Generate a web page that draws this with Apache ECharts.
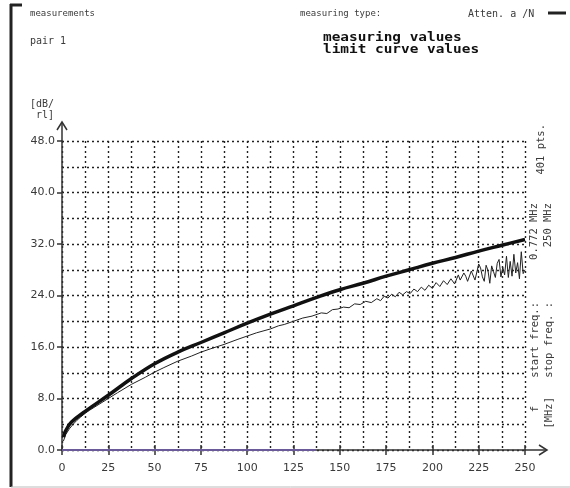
<!DOCTYPE html>
<html><head><meta charset="utf-8">
<script src="https://cdn.jsdelivr.net/npm/echarts@6/dist/echarts.min.js"></script>
<style>html,body{margin:0;padding:0;background:#fff}#c{width:570px;height:488px}</style>
</head><body><div id="c"></div>
<script>
// ---- data ----
const limitFreq = [0.772, 2, 5, 12.5, 25, 37.5, 50, 62.5, 75, 87.5, 100, 112.5, 125, 137.5, 150, 162.5, 175, 187.5, 200, 212.5, 225, 237.5, 250];
const limitVal  = [2.0, 3.0, 4.3, 6.0, 8.5, 11.1, 13.4, 15.2, 16.7, 18.2, 19.7, 21.1, 22.4, 23.7, 24.9, 25.9, 27.0, 28.0, 29.0, 29.9, 30.9, 31.8, 32.7];
const measFreq = [0.772, 2, 4, 6, 8, 10, 12.5, 15, 20, 25, 30, 37.5, 45, 50, 55, 62.5, 70, 75, 80, 87.5, 95, 100, 105, 112.5, 117, 120, 125, 130, 135, 140, 143, 146, 149, 152, 155, 158, 161, 164, 167, 170, 172, 174, 176, 178, 180, 182, 184, 186, 188, 190, 192, 194, 196, 198, 200, 202, 204, 206, 208, 210, 212, 214, 215, 216, 217, 218, 219, 220, 221, 222, 223, 224, 225, 226, 227, 228, 229, 230, 231, 232, 233, 234, 235, 236, 237, 238, 239, 240, 241, 242, 243, 244, 245, 246, 247, 248, 249, 250];
const measVal  = [1.4, 2.4, 3.3, 4.0, 4.6, 5.1, 5.7, 6.2, 7.1, 8.0, 8.9, 10.2, 11.3, 12.1, 12.8, 13.8, 14.6, 15.2, 15.7, 16.4, 17.2, 17.7, 18.2, 18.8, 19.3, 19.5, 20.0, 20.5, 20.8, 21.3, 21.2, 21.8, 21.9, 22.2, 22.1, 22.7, 22.6, 23.1, 22.9, 23.5, 23.2, 23.9, 23.6, 24.2, 23.8, 24.5, 24.1, 24.6, 24.3, 25.0, 24.6, 25.3, 24.8, 25.6, 25.1, 26.0, 25.4, 26.3, 25.7, 26.6, 25.8, 27.2, 26.4, 26.1, 27.5, 27.0, 26.2, 26.3, 27.8, 27.6, 26.4, 26.5, 28.9, 28.3, 26.9, 26.2, 28.7, 27.9, 25.9, 28.6, 27.7, 26.8, 29.0, 29.6, 26.9, 28.4, 27.2, 30.1, 26.8, 29.3, 27.0, 30.4, 27.5, 29.1, 26.6, 30.8, 27.4, 28.0];
const xTickStep = 25, xGridStep = 12.5, xMax = 250;
const yTickStep = 8, yGridStep = 4, yMax = 48;

// ---- layout ----
const G = {left: 62, right: 45, top: 141, bottom: 38};
const FONT = 'DejaVu Sans';
const MONO = 'DejaVu Sans Mono';
const gray = '#3a3a3a';

const chart = echarts.init(document.getElementById('c'), null, {renderer: 'canvas'});
const zip = (a, b) => a.map((v, i) => [v, b[i]]);
const dash = {type: [2, 3], color: '#222', width: 1.4};

const option = {
  animation: false,
  backgroundColor: '#fff',
  grid: {left: G.left, right: G.right, top: G.top, bottom: G.bottom, containLabel: false},
  xAxis: [
    {type: 'value', min: 0, max: xMax, interval: xGridStep,
     axisLine: {show: true, lineStyle: {color: '#333', width: 1.5}},
     axisTick: {show: false}, axisLabel: {show: false},
     splitLine: {show: true, lineStyle: dash}},
    {type: 'value', min: 0, max: xMax, interval: xTickStep, position: 'bottom',
     axisLine: {show: false},
     axisTick: {show: true, length: 5, lineStyle: {color: '#333', width: 1.5}},
     axisLabel: {show: true, color: gray, fontFamily: FONT, fontSize: 11, margin: 13},
     splitLine: {show: false}},
    {type: 'value', min: 0, max: xMax, interval: xTickStep, position: 'bottom',
     axisLine: {show: false},
     axisTick: {show: true, inside: true, length: 5, lineStyle: {color: '#333', width: 1.5}},
     axisLabel: {show: false}, splitLine: {show: false}}
  ],
  yAxis: [
    {type: 'value', min: 0, max: yMax, interval: yGridStep,
     axisLine: {show: true, lineStyle: {color: '#333', width: 1.5}},
     axisTick: {show: false}, axisLabel: {show: false},
     splitLine: {show: true, lineStyle: dash}},
    {type: 'value', min: 0, max: yMax, interval: yTickStep, position: 'left',
     axisLine: {show: false},
     axisTick: {show: true, length: 5, lineStyle: {color: '#333', width: 1.5}},
     axisLabel: {show: true, color: gray, fontFamily: FONT, fontSize: 11, margin: 7,
                 formatter: v => v.toFixed(1)},
     splitLine: {show: false}}
  ],
  series: [
    {name: 'limit curve values', type: 'line', xAxisIndex: 0, yAxisIndex: 0,
     data: zip(limitFreq, limitVal), smooth: 0.4, symbol: 'none',
     lineStyle: {color: '#111', width: 3.5}, z: 4},
    {name: 'measuring values', type: 'line', xAxisIndex: 0, yAxisIndex: 0,
     data: zip(measFreq, measVal), smooth: false, symbol: 'none',
     lineStyle: {color: '#222', width: 1}, z: 3}
  ]
};
chart.setOption(option);

// ---- decorations & texts ----
const p0 = chart.convertToPixel({xAxisIndex: 0, yAxisIndex: 0}, [0, 0]);
const pTop = chart.convertToPixel({xAxisIndex: 0, yAxisIndex: 0}, [0, yMax]);
const pEnd = chart.convertToPixel({xAxisIndex: 0, yAxisIndex: 0}, [xMax, 0]);
const pPurple = chart.convertToPixel({xAxisIndex: 0, yAxisIndex: 0}, [137, 0]);
const ax = p0[0], ay = p0[1];
const ls = {stroke: '#333', lineWidth: 1.5, fill: null};
const txt = (x, y, t, o, extra) => Object.assign({type: 'text', x: x, y: y,
  style: Object.assign({text: t, fill: gray, font: '9px ' + MONO, textVerticalAlign: 'middle'}, o || {})}, extra || {});
const rot = (x, y, t, o) => txt(x, y, t, Object.assign({textAlign: 'right', font: '10.5px ' + MONO}, o), {rotation: Math.PI / 2});

chart.setOption({graphic: [
  // frame
  {type: 'line', shape: {x1: 11, y1: 4, x2: 11, y2: 487}, style: {stroke: '#222', lineWidth: 3}},
  {type: 'line', shape: {x1: 10, y1: 5, x2: 22, y2: 5}, style: {stroke: '#222', lineWidth: 3}},
  {type: 'line', shape: {x1: 548, y1: 13, x2: 566, y2: 13}, style: {stroke: '#222', lineWidth: 3}},
  {type: 'line', shape: {x1: 11, y1: 487, x2: 570, y2: 487}, style: {stroke: '#bbb', lineWidth: 1}},
  // axis extensions & arrows
  {type: 'line', shape: {x1: ax, y1: pTop[1], x2: ax, y2: pTop[1] - 19}, style: ls},
  {type: 'polyline', shape: {points: [[ax - 5, pTop[1] - 11], [ax, pTop[1] - 19], [ax + 5, pTop[1] - 11]]}, style: ls},
  {type: 'line', shape: {x1: pEnd[0], y1: ay, x2: pEnd[0] + 22, y2: ay}, style: ls},
  {type: 'polyline', shape: {points: [[pEnd[0] + 14, ay - 5], [pEnd[0] + 22, ay], [pEnd[0] + 14, ay + 5]]}, style: ls},
  {type: 'line', shape: {x1: ax, y1: ay, x2: pPurple[0], y2: ay}, style: {stroke: '#6a5a9a', lineWidth: 1.8}, z: 10},
  // header texts
  txt(30, 14, 'measurements'),
  txt(300, 14, 'measuring type:'),
  txt(468, 14, 'Atten. a /N', {font: '10px ' + MONO}),
  txt(30, 41, 'pair 1', {font: '10px ' + MONO}),
  txt(323, 38, 'measuring values', {fill: '#111', font: 'bold 12px ' + MONO}, {scaleX: 1.2, originX: 0, originY: 0}),
  txt(323, 50, 'limit curve values', {fill: '#111', font: 'bold 12px ' + MONO}, {scaleX: 1.2, originX: 0, originY: 0}),
  // y unit
  txt(30, 104, '[dB/', {font: '10px ' + MONO}),
  txt(36, 115, 'rl]', {font: '10px ' + MONO}),
  // right rotated texts
  rot(541, 124, '401 pts.'),
  rot(534, 203, '0.772 MHz'),
  rot(548, 203, '250 MHz'),
  rot(535, 302, 'start freq.:'),
  rot(549, 302, 'stop freq. :'),
  rot(535, 406, 'f'),
  rot(549, 397, '[MHz]')
]});
</script></body></html>
